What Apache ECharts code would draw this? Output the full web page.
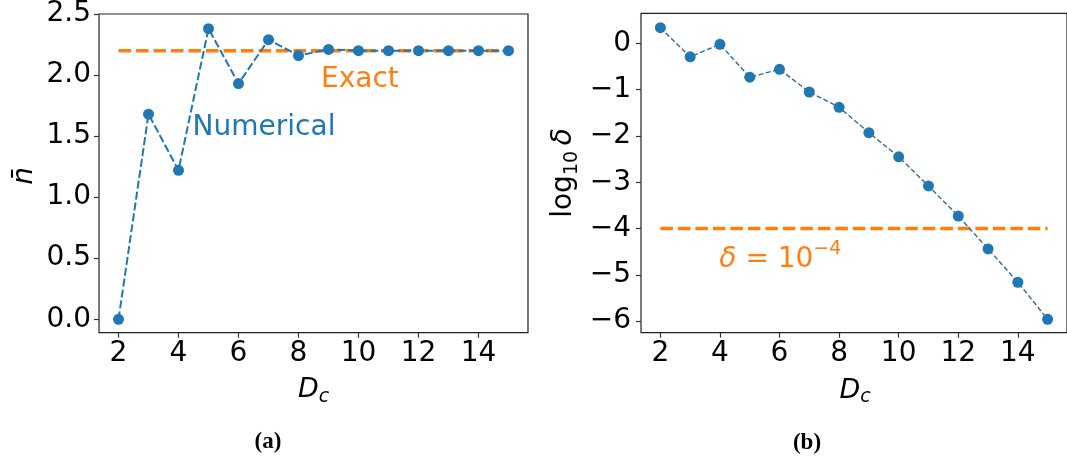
<!DOCTYPE html>
<html>
<head>
<meta charset="utf-8">
<script src="https://cdn.jsdelivr.net/npm/echarts@6/dist/echarts.min.js"></script>
<style>
  html, body { margin: 0; padding: 0; background: #fff; }
  #chart { width: 1067px; height: 461px; }
</style>
</head>
<body>
<div id="chart"></div>
<script>
// Bond dimension D_c
const dc = [2, 3, 4, 5, 6, 7, 8, 9, 10, 11, 12, 13, 14, 15];
// (a) mean occupation, numerical result
const nBar = [0.00, 1.68, 1.22, 2.38, 1.93, 2.29, 2.16, 2.21, 2.20, 2.20, 2.20, 2.20, 2.20, 2.20];
// (a) exact value
const nExact = 2.2;
// (b) log10 of the error
const logDelta = [0.34, -0.29, -0.02, -0.73, -0.56, -1.05, -1.38, -1.93, -2.45, -3.08, -3.73, -4.44, -5.16, -5.96];
// (b) threshold log10(1e-4)
const logThreshold = -4;

// tick values
const xTicks = [2, 4, 6, 8, 10, 12, 14];
const nTicks = [0, 0.5, 1.0, 1.5, 2.0, 2.5];
const logTicks = [-6, -5, -4, -3, -2, -1, 0];

// annotation anchors (data coordinates)
const numericalAt = [4.47, 1.57];
const exactAt = [8.75, 1.96];
const deltaAt = [3.98, -4.60];

const BLUE = '#1f77b4';
const ORANGE = '#ff7f0e';
const FONT = 'DejaVu Sans';
const TICK_FS = 28;

const minusFmt = v => (v < 0 ? '\u2212' + Math.abs(v) : String(v));

function xAxisOf(gridIndex) {
  return {
    type: 'value', gridIndex, min: 1.35, max: 15.65, position: 'bottom',
    axisLine: { show: false, onZero: false },
    splitLine: { show: false },
    axisTick: { show: true, inside: false, length: 5, customValues: xTicks,
      lineStyle: { color: '#333', width: 1.2 } },
    axisLabel: { customValues: xTicks, margin: 7, color: '#000',
      fontFamily: FONT, fontSize: TICK_FS }
  };
}

function yAxisOf(gridIndex, min, max, ticks, fmt, margin) {
  return {
    type: 'value', gridIndex, min, max, position: 'left',
    axisLine: { show: false, onZero: false }, splitLine: { show: false },
    axisTick: { show: true, length: 5, customValues: ticks, lineStyle: { color: '#333', width: 1.2 } },
    axisLabel: { customValues: ticks, margin, color: '#000', fontFamily: FONT, fontSize: TICK_FS,
      formatter: fmt }
  };
}

const line = (xIdx, yIdx, ys, color, width, dash) => ({
  type: 'line', xAxisIndex: xIdx, yAxisIndex: yIdx,
  data: dc.map((d, i) => [d, ys[i]]),
  symbol: 'circle', symbolSize: 11, showSymbol: true,
  itemStyle: { color: BLUE },
  lineStyle: { color, width, type: dash },
  z: 3, animation: false
});

const hLine = (xIdx, yIdx, y) => ({
  type: 'line', xAxisIndex: xIdx, yAxisIndex: yIdx,
  data: [[dc[0], y], [dc[dc.length - 1], y]],
  symbol: 'none',
  lineStyle: { color: ORANGE, width: 3.5, type: [12.5, 5] },
  z: 2, animation: false
});

const note = (xIdx, yIdx, at, text, color, rich) => ({
  type: 'scatter', xAxisIndex: xIdx, yAxisIndex: yIdx,
  data: [at], symbolSize: 0, silent: true, z: 5, animation: false,
  itemStyle: { opacity: 1, color },
  label: {
    show: true, position: [0, 0], align: 'left', verticalAlign: 'middle', opacity: 1,
    textBorderWidth: 0, formatter: text, color, fontFamily: FONT, fontSize: 28, rich
  }
});

const subLabel = (main, sub) => ({
  text: '{m|' + main + '}{s|' + sub + '}', align: 'center', verticalAlign: 'middle',
  rich: {
    m: { fontFamily: FONT, fontStyle: 'italic', fontSize: 27, fill: '#000', lineHeight: 30, verticalAlign: 'top' },
    s: { fontFamily: FONT, fontStyle: 'italic', fontSize: 19, fill: '#000', lineHeight: 16, verticalAlign: 'bottom' }
  }
});

const chart = echarts.init(document.getElementById('chart'), null, { renderer: 'canvas' });
chart.setOption({
  backgroundColor: '#fff',
  animation: false,
  grid: [
    { left: 99, top: 13.3, width: 429, height: 319.4, show: true, borderColor: '#222', borderWidth: 1.2 },
    { left: 641, top: 13.3, width: 429, height: 319.4, show: true, borderColor: '#222', borderWidth: 1.2 }
  ],
  xAxis: [xAxisOf(0), xAxisOf(1)],
  yAxis: [
    yAxisOf(0, -0.11, 2.5, nTicks, v => v.toFixed(1), 8),
    yAxisOf(1, -6.25, 0.65, logTicks, minusFmt, 10)
  ],
  series: [
    hLine(0, 0, nExact),
    line(0, 0, nBar, BLUE, 2, [8, 3]),
    hLine(1, 1, logThreshold),
    line(1, 1, logDelta, '#2f6a9a', 1.4, [5, 2.5]),
    note(0, 0, numericalAt, 'Numerical', BLUE),
    note(0, 0, exactAt, 'Exact', ORANGE),
    note(1, 1, deltaAt, '{d|\u03b4}{t| = 10}{p|\u22124}', ORANGE, {
      d: { fontFamily: FONT, fontStyle: 'italic', fontSize: 28, color: ORANGE, lineHeight: 34, verticalAlign: 'bottom' },
      t: { fontFamily: FONT, fontSize: 28, color: ORANGE, lineHeight: 34, verticalAlign: 'bottom' },
      p: { fontFamily: FONT, fontSize: 19, color: ORANGE, lineHeight: 19, verticalAlign: 'top' }
    })
  ],
  graphic: [
    // y-axis titles
    { type: 'text', x: 24.7, y: 176, rotation: Math.PI / 2, z: 10,
      style: { text: 'n\u0304', fontFamily: FONT, fontStyle: 'italic', fontSize: 28,
        fill: '#000', align: 'center', verticalAlign: 'middle' } },
    { type: 'text', x: 566, y: 173, rotation: Math.PI / 2, z: 10,
      style: { text: '{a|log}{s|10}{b|\u2009}{d|\u03b4}', align: 'center', verticalAlign: 'middle',
        rich: {
          a: { fontFamily: FONT, fontSize: 28, fill: '#000', lineHeight: 32, verticalAlign: 'top' },
          s: { fontFamily: FONT, fontSize: 19, fill: '#000', lineHeight: 17, verticalAlign: 'bottom' },
          b: { fontFamily: FONT, fontSize: 28, fill: '#000', lineHeight: 32, verticalAlign: 'top' },
          d: { fontFamily: FONT, fontStyle: 'italic', fontSize: 28, fill: '#000', lineHeight: 32, verticalAlign: 'top' }
        } } },
    // x-axis titles
    { type: 'text', x: 313.5, y: 391.5, z: 10, style: subLabel('D', 'c') },
    { type: 'text', x: 855, y: 392, z: 10, style: subLabel('D', 'c') },
    // panel labels
    { type: 'text', x: 268, y: 442, z: 10,
      style: { text: '(a)', fontFamily: 'Liberation Serif', fontWeight: 'bold', fontSize: 23,
        fill: '#000', align: 'center', verticalAlign: 'middle' } },
    { type: 'text', x: 807, y: 443, z: 10,
      style: { text: '(b)', fontFamily: 'Liberation Serif', fontWeight: 'bold', fontSize: 23,
        fill: '#000', align: 'center', verticalAlign: 'middle' } }
  ]
});
</script>
</body>
</html>
